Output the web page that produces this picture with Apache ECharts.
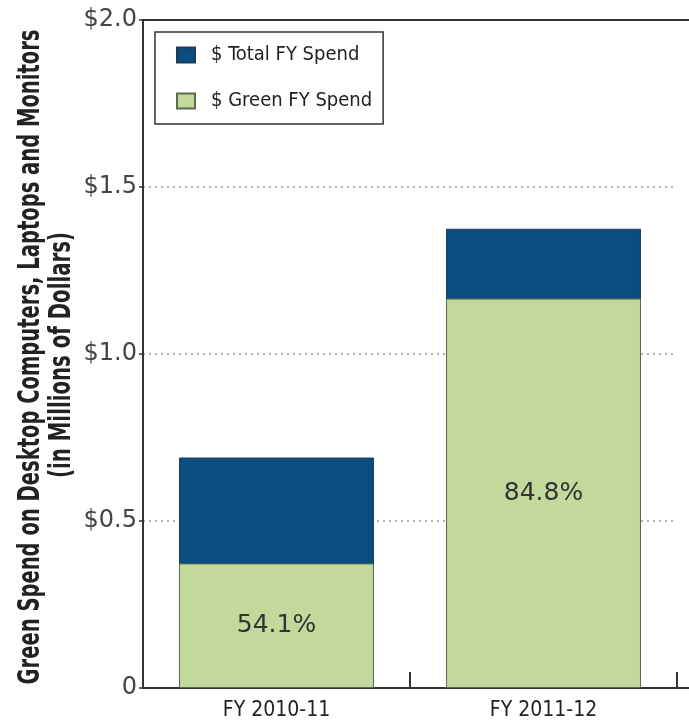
<!DOCTYPE html>
<html>
<head>
<meta charset="utf-8">
<script src="https://cdn.jsdelivr.net/npm/echarts@6/dist/echarts.min.js"></script>
<style>
html,body{margin:0;padding:0;background:#fff;}
#chart{width:689px;height:727px;}
</style>
</head>
<body>
<div id="chart"></div>
<script>
var categories = ['FY 2010-11', 'FY 2011-12'];
var totalSpend = [0.69, 1.375];
var greenSpend = [0.373, 1.166];
var greenShareLabels = ['54.1%', '84.8%'];
var yTicks = [0, 0.5, 1.0, 1.5, 2.0];
var yTickLabels = ['0', '$0.5', '$1.0', '$1.5', '$2.0'];
var yTitleLines = ['Green Spend on Desktop Computers, Laptops and Monitors', '(in Millions of Dollars)'];

var narrow = "'DejaVu Sans Condensed', 'Liberation Sans Narrow', sans-serif";
var wide = "'DejaVu Sans', Verdana, sans-serif";
var GL = 143, GT = 20, GR = 12, GB = 39;

// horizontally condensed rotated title (reference uses a condensed bold face)
var ctx = document.createElement('canvas').getContext('2d');
var titleFontSize = 30;
ctx.font = 'bold ' + titleFontSize + "px 'DejaVu Sans Condensed'";
var titleTargetLen = [655, 246];
var titleX = [31, 62];
var titleY = [357, 355];
var titleGraphics = yTitleLines.map(function (t, i) {
  var w = ctx.measureText(t).width;
  return {
    type: 'text', x: titleX[i], y: titleY[i], rotation: Math.PI / 2,
    scaleX: titleTargetLen[i] / w, scaleY: 1,
    style: {
      text: t, fontFamily: 'DejaVu Sans Condensed', fontWeight: 'bold', fontSize: titleFontSize,
      fill: '#222', textAlign: 'center', textVerticalAlign: 'middle'
    }
  };
});

var chart = echarts.init(document.getElementById('chart'));
chart.setOption({
  animation: false,
  backgroundColor: '#fff',
  grid: { left: GL, top: GT, right: GR, bottom: GB, containLabel: false, outerBoundsMode: 'none' },
  legend: {
    orient: 'vertical',
    left: 155, top: 32,
    padding: [13, 11, 13, 21],
    itemGap: 26,
    itemWidth: 18, itemHeight: 15,
    icon: 'rect',
    borderColor: '#333', borderWidth: 1.5,
    backgroundColor: '#fff',
    data: ['$ Total FY Spend', '$ Green FY Spend'],
    textStyle: { fontFamily: narrow, fontSize: 20, lineHeight: 20, color: '#222', padding: [0, 0, 0, 11] }
  },
  xAxis: {
    type: 'category',
    data: categories,
    boundaryGap: true,
    axisLine: { show: true, lineStyle: { color: '#333', width: 2 } },
    axisTick: { show: true, inside: true, length: 16, lineStyle: { color: '#333', width: 2 } },
    axisLabel: { fontFamily: narrow, fontSize: 21, color: '#222', margin: 12 },
    splitLine: { show: false }
  },
  yAxis: {
    type: 'value',
    min: yTicks[0], max: yTicks[yTicks.length - 1], interval: 0.5,
    axisLine: { show: true, lineStyle: { color: '#333', width: 2 } },
    axisTick: { show: true, length: 4, lineStyle: { color: '#333', width: 1.5 } },
    axisLabel: {
      fontFamily: wide, fontSize: 24, color: '#444', margin: 6,
      formatter: function (v) { var i = yTicks.indexOf(v); return i >= 0 ? yTickLabels[i] : ''; }
    },
    splitLine: { show: true, lineStyle: { color: '#999', type: [2, 4], width: 1.5 } }
  },
  graphic: titleGraphics.concat([
    { type: 'line', z: 100, shape: { x1: GL - 1, y1: GT, x2: 689, y2: GT }, style: { stroke: '#333', lineWidth: 2 } },
    { type: 'line', z: 100, shape: { x1: 689 - GR, y1: 727 - GB, x2: 689, y2: 727 - GB }, style: { stroke: '#333', lineWidth: 2 } }
  ]),
  series: [
    {
      name: '$ Total FY Spend',
      type: 'bar',
      data: totalSpend,
      barWidth: '73%',
      barGap: '-100%',
      itemStyle: { color: '#0b4d7f', borderColor: '#1f3b55', borderWidth: 1 },
      z: 2
    },
    {
      name: '$ Green FY Spend',
      type: 'bar',
      data: greenSpend,
      barWidth: '73%',
      barGap: '-100%',
      itemStyle: { color: '#c3d99c', borderColor: '#5b6b52', borderWidth: 1 },
      label: {
        show: true, position: 'inside',
        fontFamily: wide, fontSize: 25, color: '#333',
        formatter: function (p) { return greenShareLabels[p.dataIndex]; }
      },
      z: 3
    }
  ]
});
</script>
</body>
</html>
